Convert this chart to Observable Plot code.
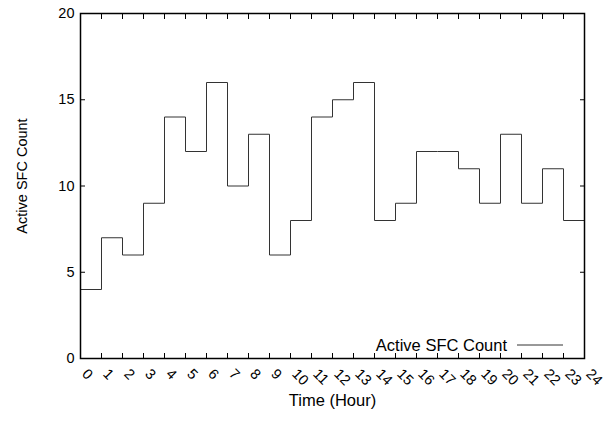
<!DOCTYPE html>
<html>
<head>
<meta charset="utf-8">
<script src="https://cdn.jsdelivr.net/npm/d3@7"></script>
<script src="https://cdn.jsdelivr.net/npm/@observablehq/plot@0.6"></script>
<style>
  html, body { margin: 0; padding: 0; background: #fff; }
  #chart svg { display: block; }
</style>
</head>
<body>
<div id="chart"></div>
<script>
// Active SFC count per hour of the day
const hours = [0, 1, 2, 3, 4, 5, 6, 7, 8, 9, 10, 11, 12, 13, 14, 15, 16, 17, 18, 19, 20, 21, 22, 23];
const counts = [4, 7, 6, 9, 14, 12, 16, 10, 13, 6, 8, 14, 15, 16, 8, 9, 12, 12, 11, 9, 13, 9, 11, 8];
const xTicks = [0, 1, 2, 3, 4, 5, 6, 7, 8, 9, 10, 11, 12, 13, 14, 15, 16, 17, 18, 19, 20, 21, 22, 23, 24];
const yTicks = [0, 5, 10, 15, 20];
const seriesName = "Active SFC Count";
const xLabel = "Time (Hour)";
const yLabel = "Active SFC Count";

// each hour holds its value until the next hour; the last one runs to hour 24
const steps = hours.map((h, i) => ({hour: h, count: counts[i]}));
steps.push({hour: hours[hours.length - 1] + 1, count: counts[counts.length - 1]});

const font = "'Liberation Sans', Arial, Helvetica, sans-serif";

// line-sample legend drawn in the lower-right corner of the frame
function legend(index, scales, values, dimensions) {
  const right = dimensions.width - dimensions.marginRight;
  const bottom = dimensions.height - dimensions.marginBottom;
  const g = d3.create("svg:g");
  g.append("text")
    .attr("x", right - 77)
    .attr("y", bottom - 13)
    .attr("dy", "0.35em")
    .attr("text-anchor", "end")
    .attr("font-size", 16.5)
    .attr("font-family", font)
    .attr("fill", "black")
    .text(seriesName);
  g.append("line")
    .attr("x1", right - 67)
    .attr("x2", right - 21)
    .attr("y1", bottom - 13)
    .attr("y2", bottom - 13)
    .attr("stroke", "#333")
    .attr("stroke-width", 1);
  return g.node();
}

const chart = Plot.plot({
  width: 612,
  height: 421,
  marginLeft: 80,
  marginRight: 28,
  marginTop: 13,
  marginBottom: 63,
  style: `font-family: ${font}; font-size: 14.5px; color: black; background: white; overflow: visible;`,
  x: {domain: [0, 24]},
  y: {domain: [0, 20]},
  marks: [
    Plot.lineY(steps, {x: "hour", y: "count", curve: "step-after", stroke: "#333", strokeWidth: 1}),
    // inward ticks on all four sides
    Plot.axisX(xTicks, {anchor: "bottom", tickSize: -5, text: null, label: null, stroke: "black"}),
    Plot.axisX(xTicks, {anchor: "top", tickSize: -5, text: null, label: null, stroke: "black"}),
    Plot.axisY(yTicks, {anchor: "left", tickSize: -5, tickPadding: 11, fontSize: 14.5, label: null, stroke: "black"}),
    Plot.axisY(yTicks, {anchor: "right", tickSize: -5, text: null, label: null, stroke: "black"}),
    // slanted hour labels under the bottom edge
    Plot.text(xTicks, {x: d => d, frameAnchor: "bottom", text: d => String(d), rotate: 45, textAnchor: "start", lineAnchor: "middle", dx: 4, dy: 13, fontSize: 14.5, fill: "black"}),
    Plot.frame({stroke: "black", strokeWidth: 1.5}),
    Plot.text([xLabel], {frameAnchor: "bottom", dy: 47, fontSize: 16.5, fill: "black"}),
    Plot.text([yLabel], {frameAnchor: "left", textAnchor: "middle", dx: -58, dy: -10, rotate: -90, fontSize: 14.5, fill: "black"}),
    legend
  ]
});

document.getElementById("chart").appendChild(chart);
</script>
</body>
</html>
